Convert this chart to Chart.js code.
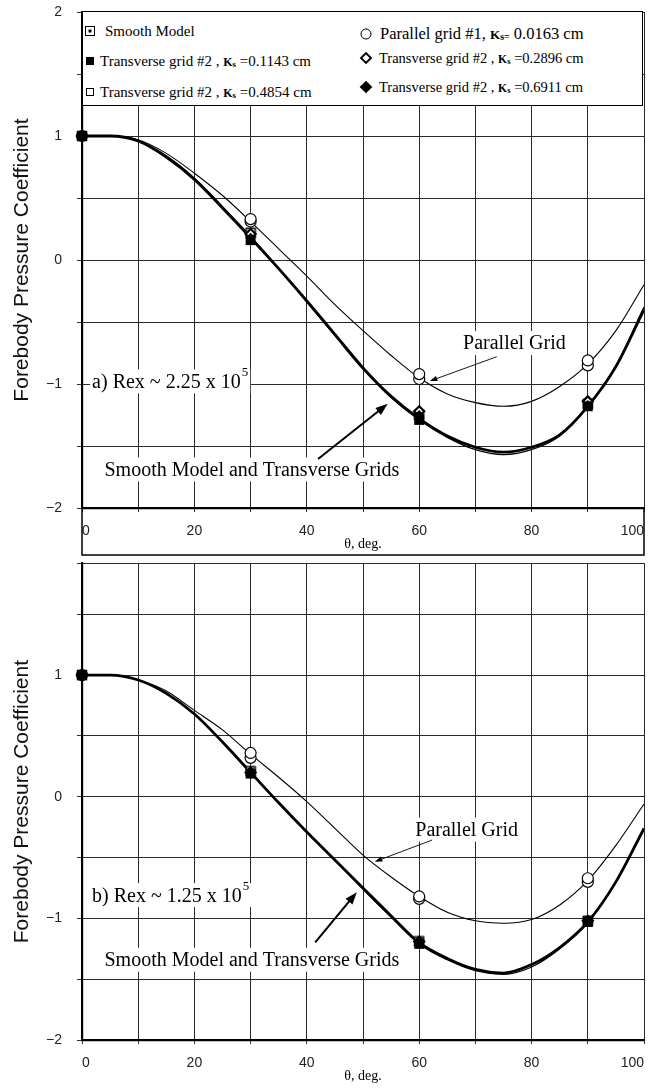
<!DOCTYPE html>
<html>
<head>
<meta charset="utf-8">
<script src="https://cdn.jsdelivr.net/npm/chart.js@4.4.0/dist/chart.umd.min.js"></script>
<style>
  body { margin: 0; background: #fff; }
  #wrap { position: relative; width: 655px; height: 1088px; overflow: hidden; }
  #topChart { position: absolute; left: 0; top: 0; }
  #botChart { position: absolute; left: 0; top: 556px; }
  .legend {
    position: absolute; left: 82px; top: 11px; width: 561px; height: 95px;
    border: 1.5px solid #000; background: #fff; box-sizing: border-box;
    font-family: "Liberation Serif", "Times New Roman", serif; color: #000;
  }
  .item { position: absolute; white-space: nowrap; transform: translateY(-50%); line-height: 1; }
  .ks { font-weight: bold; font-size: 0.8em; }
  .ks sub { font-size: 0.75em; vertical-align: -1px; }
  .mk { position: absolute; box-sizing: border-box; transform: translate(-50%, -50%); }
</style>
</head>
<body>
<div id="wrap">
  <canvas id="topChart" width="655" height="556"></canvas>
  <canvas id="botChart" width="655" height="532"></canvas>

  <div class="legend">
    <!-- left column -->
    <div class="mk" style="left:7px; top:19px; width:10px; height:10px; border:1.5px solid #000;"></div>
    <div class="mk" style="left:7px; top:19px; width:3px; height:3px; background:#000;"></div>
    <div class="item" style="left:22px; top:19px; font-size:15px;">Smooth Model</div>

    <div class="mk" style="left:7px; top:49px; width:8px; height:8px; background:#000;"></div>
    <div class="item" style="left:17px; top:49px; font-size:15px;">Transverse grid #2 , <span class="ks">K<sub>s</sub></span> =0.1143 cm</div>

    <div class="mk" style="left:7px; top:80px; width:8px; height:8px; border:1px solid #000;"></div>
    <div class="item" style="left:17px; top:80px; font-size:15px;">Transverse grid #2 , <span class="ks">K<sub>s</sub></span> =0.4854 cm</div>

    <!-- right column -->
    <div class="mk" style="left:283px; top:22px; width:11px; height:11px; border:1.2px solid #000; border-radius:50%;"></div>
    <div class="item" style="left:297px; top:22px; font-size:16.5px;">Parallel grid #1, <span class="ks">K<sub>s=</sub></span> 0.0163 cm</div>

    <div class="mk" style="left:283px; top:46px; width:9px; height:9px; border:2.5px solid #000; transform:translate(-50%,-50%) rotate(45deg);"></div>
    <div class="item" style="left:296px; top:46px; font-size:14.5px;">Transverse grid #2 , <span class="ks">K<sub>s</sub></span> =0.2896 cm</div>

    <div class="mk" style="left:283px; top:75px; width:9px; height:9px; background:#000; transform:translate(-50%,-50%) rotate(45deg);"></div>
    <div class="item" style="left:296px; top:75px; font-size:14.5px;">Transverse grid #2 , <span class="ks">K<sub>s</sub></span> =0.6911 cm</div>
  </div>
</div>

<script>
// measured angles (deg) and curve-fit angles
const angles = [0, 30, 60, 90];
const fitAngles = [0, 5, 10, 15, 20, 25, 30, 35, 40, 45, 50, 55, 60, 65, 70, 75, 80, 85, 90, 95, 100];

// a) Rex ~ 2.25 x 10^5
const aSmooth    = [1.00, 0.22, -1.25, -1.16];
const aTrans1143 = [1.00, 0.16, -1.29, -1.18];
const aTrans4854 = [1.00, 0.19, -1.27, -1.15];
const aPar0163   = [1.00, 0.33, -0.92, -0.81];
const aPar0163b  = [null, 0.31, -0.96, -0.85];
const aTrans2896 = [1.00, 0.21, -1.22, -1.14];
const aTrans6911 = [1.00, 0.18, -1.25, -1.17];
const aFitParallel = [1.00, 1.00, 0.97, 0.86, 0.70, 0.52, 0.31, 0.09, -0.13, -0.36, -0.57, -0.77, -0.95, -1.08, -1.15, -1.18, -1.14, -1.02, -0.84, -0.57, -0.20];
const aFitSmooth   = [1.00, 1.00, 0.96, 0.83, 0.65, 0.42, 0.18, -0.07, -0.33, -0.60, -0.87, -1.10, -1.28, -1.42, -1.51, -1.55, -1.51, -1.41, -1.18, -0.86, -0.40];
const aFitTrans    = [1.00, 1.00, 0.96, 0.84, 0.66, 0.43, 0.19, -0.07, -0.34, -0.61, -0.88, -1.11, -1.29, -1.43, -1.53, -1.57, -1.53, -1.42, -1.18, -0.85, -0.38];

// b) Rex ~ 1.25 x 10^5
const bSmooth    = [1.00, 0.21, -1.19, -1.02];
const bTrans1143 = [1.00, 0.19, -1.21, -1.03];
const bTrans4854 = [1.00, 0.20, -1.20, -1.01];
const bPar0163   = [1.00, 0.36, -0.82, -0.67];
const bPar0163b  = [null, 0.32, -0.84, -0.70];
const bTrans2896 = [1.00, 0.20, -1.19, -1.02];
const bTrans6911 = [1.00, 0.19, -1.20, -1.03];
const bFitParallel = [1.00, 1.00, 0.96, 0.87, 0.71, 0.55, 0.35, 0.16, -0.04, -0.26, -0.48, -0.66, -0.82, -0.95, -1.02, -1.04, -1.01, -0.89, -0.69, -0.40, -0.06];
const bFitSmooth   = [1.00, 1.00, 0.96, 0.85, 0.68, 0.45, 0.20, -0.05, -0.29, -0.52, -0.75, -0.98, -1.20, -1.33, -1.42, -1.45, -1.38, -1.24, -1.03, -0.70, -0.26];
const bFitTrans    = [1.00, 1.00, 0.96, 0.85, 0.68, 0.45, 0.20, -0.05, -0.29, -0.52, -0.76, -0.99, -1.21, -1.34, -1.43, -1.46, -1.40, -1.25, -1.03, -0.70, -0.27];

const xTickLabels = [0, 20, 40, 60, 80, 100];
const yTickLabels = [-2, -1, 0, 1, 2];

function pts(xs, ys) {
  return xs.map((x, i) => ({x: x, y: ys[i]})).filter(p => p.y !== null);
}

// open square with a dot in the middle (smooth model symbol)
function squareDot() {
  const c = document.createElement('canvas');
  c.width = 12; c.height = 12;
  const g = c.getContext('2d');
  g.fillStyle = '#fff'; g.fillRect(1, 1, 10, 10);
  g.strokeStyle = '#000'; g.lineWidth = 1.5; g.strokeRect(1.5, 1.5, 9, 9);
  g.fillStyle = '#000'; g.fillRect(4.5, 4.5, 3, 3);
  return c;
}

function drawArrow(ctx, x1, y1, x2, y2, w, head) {
  const ang = Math.atan2(y2 - y1, x2 - x1);
  ctx.save();
  ctx.strokeStyle = '#000'; ctx.fillStyle = '#000'; ctx.lineWidth = w;
  ctx.beginPath();
  ctx.moveTo(x1, y1);
  ctx.lineTo(x2 - Math.cos(ang) * head * 0.8, y2 - Math.sin(ang) * head * 0.8);
  ctx.stroke();
  ctx.beginPath();
  ctx.moveTo(x2, y2);
  ctx.lineTo(x2 - head * Math.cos(ang - 0.35), y2 - head * Math.sin(ang - 0.35));
  ctx.lineTo(x2 - head * Math.cos(ang + 0.35), y2 - head * Math.sin(ang + 0.35));
  ctx.closePath();
  ctx.fill();
  ctx.restore();
}

// text boxes and arrows placed in data units
const notesPlugin = {
  id: 'notes',
  afterDatasetsDraw(chart, args, opts) {
    const ctx = chart.ctx, x = chart.scales.x, y = chart.scales.y;
    ctx.save();
    (opts.texts || []).forEach(t => {
      const px = x.getPixelForValue(t.at[0]), py = y.getPixelForValue(t.at[1]);
      ctx.font = '20px "Liberation Serif", serif';
      const w = ctx.measureText(t.text).width;
      let sw = 0;
      if (t.sup) { ctx.font = '13px "Liberation Serif", serif'; sw = ctx.measureText(t.sup).width + 1; }
      ctx.fillStyle = '#fff';
      ctx.fillRect(px - 2, py - 12, w + sw + 4, 24);
      ctx.fillStyle = '#000';
      ctx.textBaseline = 'middle';
      ctx.font = '20px "Liberation Serif", serif';
      ctx.fillText(t.text, px, py + 1);
      if (t.sup) {
        ctx.font = '13px "Liberation Serif", serif';
        ctx.fillText(t.sup, px + w + 1, py - 9);
      }
    });
    (opts.arrows || []).forEach(a => {
      drawArrow(ctx, x.getPixelForValue(a.from[0]), y.getPixelForValue(a.from[1]),
        x.getPixelForValue(a.to[0]), y.getPixelForValue(a.to[1]), a.width, a.head);
    });
    ctx.restore();
  }
};

// white box holding the x tick labels of the upper panel
const axisBoxPlugin = {
  id: 'axisBox',
  afterDraw(chart, args, opts) {
    if (!opts.show) return;
    const ctx = chart.ctx, a = chart.chartArea;
    ctx.save();
    ctx.strokeStyle = '#000'; ctx.lineWidth = 1.5;
    ctx.strokeRect(a.left, a.bottom, a.right - a.left, chart.height - a.bottom - 1);
    ctx.restore();
  }
};

function makePanel(id, d, yMax, notes, box) {
  const sq = squareDot();
  const marker = (label, data, style, r, fill, bw) => ({
    type: 'scatter', label: label, data: data, showLine: false, clip: false,
    pointStyle: style, pointRadius: r, pointHoverRadius: r,
    backgroundColor: fill, borderColor: '#000', borderWidth: bw
  });
  const curve = (data, w) => ({
    type: 'scatter', data: data, showLine: true, borderColor: '#000', borderWidth: w,
    pointRadius: 0, cubicInterpolationMode: 'monotone', fill: false
  });

  return new Chart(document.getElementById(id), {
    type: 'scatter',
    data: {
      datasets: [
        marker('Transverse grid #2, Ks=0.1143 cm', pts(angles, d.t1143), 'rect', 7, '#000', 0),
        marker('Transverse grid #2, Ks=0.6911 cm', pts(angles, d.t6911), 'rectRot', 5, '#000', 0),
        marker('Transverse grid #2, Ks=0.2896 cm', pts(angles, d.t2896), 'rectRot', 5, '#fff', 2.2),
        marker('Transverse grid #2, Ks=0.4854 cm', pts(angles, d.t4854), 'rect', 4.5, '#fff', 1),
        marker('Smooth Model', pts(angles, d.smooth), sq, 6, '#fff', 0),
        marker('Parallel grid #1, Ks=0.0163 cm', pts(angles, d.par), 'circle', 5.5, '#fff', 1.2),
        marker('Parallel grid #1 (repeat)', pts(angles, d.parB), 'circle', 5.5, '#fff', 1.2),
        curve(pts(fitAngles, d.fitTrans), 1.3),
        curve(pts(fitAngles, d.fitSmooth), 2.8),
        curve(pts(fitAngles, d.fitPar), 1.1)
      ]
    },
    options: {
      responsive: false,
      animation: false,
      layout: { padding: { top: box ? 12 : 0, right: 11, left: 0, bottom: 0 } },
      plugins: {
        legend: { display: false },
        tooltip: { enabled: false },
        notes: notes,
        axisBox: { show: box }
      },
      scales: {
        x: {
          type: 'linear', min: 0, max: 100,
          afterFit: s => { s.height = 48; },
          ticks: {
            stepSize: 10, align: 'inner', padding: 11, color: '#222',
            font: { family: '"Liberation Sans", Arial, sans-serif', size: 14 },
            callback: v => xTickLabels.includes(v) ? String(v) : ''
          },
          grid: { color: '#2a2a2a', lineWidth: 1, tickLength: 4, tickColor: '#333' },
          border: { color: '#000', width: 2.2 },
          title: {
            display: true, text: 'θ, deg.', color: '#000',
            font: { family: '"Liberation Serif", serif', size: 14 },
            padding: { top: 0, bottom: 3 }
          }
        },
        y: {
          type: 'linear', min: -2, max: yMax,
          afterFit: s => { s.width = 82; s.paddingTop = 0; },
          ticks: {
            stepSize: 0.5, padding: 15, color: '#222',
            font: { family: '"Liberation Sans", Arial, sans-serif', size: 14 },
            callback: v => yTickLabels.includes(v) ? String(v).replace('-', '\u2212') : ''
          },
          grid: { color: '#2a2a2a', lineWidth: 1, tickLength: 5, tickColor: '#333' },
          border: { color: '#000', width: 2.2 },
          title: {
            display: true, text: 'Forebody Pressure Coefficient', color: '#111',
            font: { family: '"Liberation Sans", Arial, sans-serif', size: 21 },
            padding: { top: 10, bottom: 0 }
          }
        }
      }
    },
    plugins: [notesPlugin, axisBoxPlugin]
  });
}

makePanel('topChart', {
  smooth: aSmooth, t1143: aTrans1143, t4854: aTrans4854, par: aPar0163, parB: aPar0163b,
  t2896: aTrans2896, t6911: aTrans6911,
  fitPar: aFitParallel, fitSmooth: aFitSmooth, fitTrans: aFitTrans
}, 2, {
  texts: [
    { text: 'a) Rex ~ 2.25 x 10', sup: '5', at: [1.8, -0.98] },
    { text: 'Parallel Grid', at: [67.8, -0.67] },
    { text: 'Smooth Model and Transverse Grids', at: [4.0, -1.69] }
  ],
  arrows: [
    { from: [73.8, -0.78], to: [61.9, -0.976], width: 0.9, head: 8 },
    { from: [42.0, -1.605], to: [54.4, -1.16], width: 2, head: 13 }
  ]
}, true);

makePanel('botChart', {
  smooth: bSmooth, t1143: bTrans1143, t4854: bTrans4854, par: bPar0163, parB: bPar0163b,
  t2896: bTrans2896, t6911: bTrans6911,
  fitPar: bFitParallel, fitSmooth: bFitSmooth, fitTrans: bFitTrans
}, 1.92, {
  texts: [
    { text: 'b) Rex ~ 1.25 x 10', sup: '5', at: [1.8, -0.81] },
    { text: 'Parallel Grid', at: [59.3, -0.27] },
    { text: 'Smooth Model and Transverse Grids', at: [4.0, -1.34] }
  ],
  arrows: [
    { from: [62.3, -0.356], to: [52.1, -0.534], width: 0.9, head: 8 },
    { from: [41.5, -1.198], to: [48.9, -0.785], width: 2, head: 13 }
  ]
}, false);
</script>
</body>
</html>
